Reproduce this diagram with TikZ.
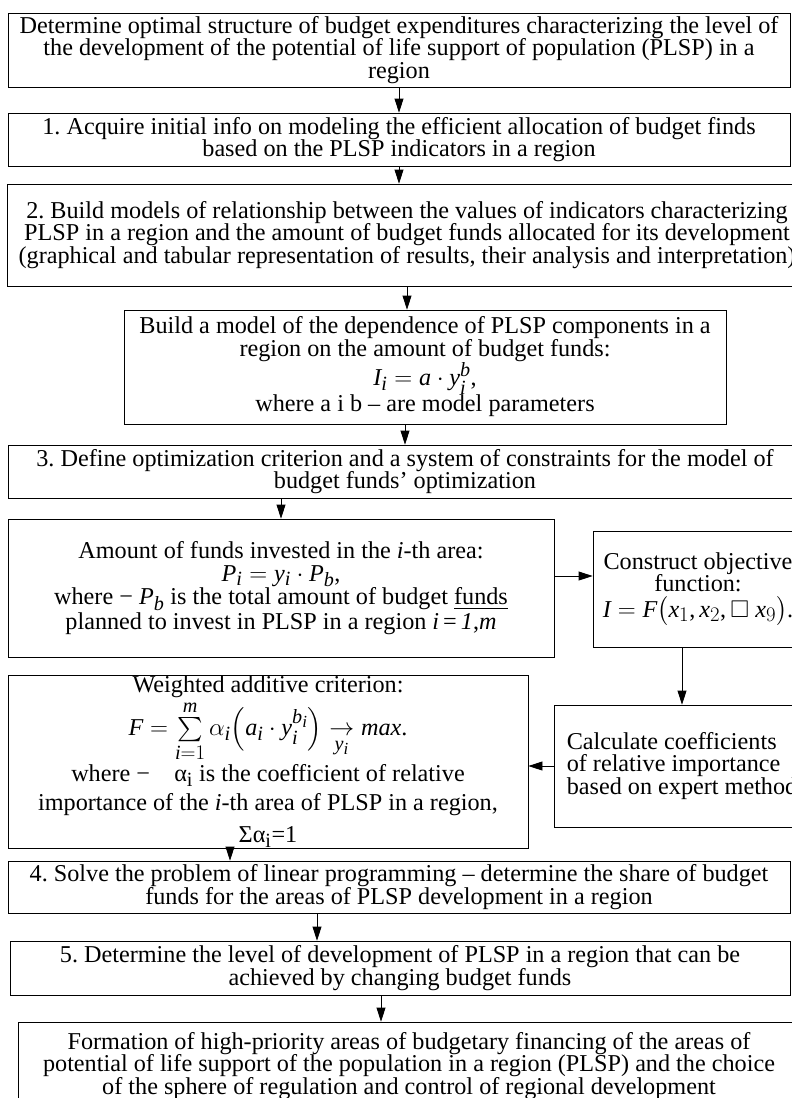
\documentclass[tikz,border=0pt]{standalone}
\usepackage{amsmath,amssymb}
\usepackage{fontspec}
\setmainfont{Liberation Serif}
\usepackage[italic]{mathastext}
\usetikzlibrary{arrows.meta,positioning}
\frenchspacing

\begin{document}
\begin{tikzpicture}[x=1pt, y=-1pt, line width=0.8pt,
    box/.style = {draw, align=center, inner sep=0pt, font=\fontsize{24.2}{22.5}\selectfont},
    arr/.style = {-{Triangle[length=14pt,width=9pt]}}]
    \useasboundingbox (0,0) rectangle (792,1098);
    \clip (0,0) rectangle (792,1098);
    % main chain
    \node[box, minimum width=782pt, minimum height=74pt] (goal) at (399,50) {Determine optimal structure of budget expenditures characterizing the level of\\ the development of the potential of life support of population (PLSP) in a\\ region};
    \node[box, minimum width=782pt, minimum height=53pt] (s1) at (399,139.5) {1. Acquire initial info on modeling the efficient allocation of budget finds\\ based on the PLSP indicators in a region};
    \node[box, minimum width=800pt, minimum height=102pt] (s2) at (407,235) {2. Build models of relationship between the values of indicators characterizing\\ PLSP in a region and the amount of budget funds allocated for its development\\ (graphical and tabular representation of results, their analysis and interpretation)};
    \node[box, minimum width=602pt, minimum height=114pt] (model) at (425,367) {Build a model of the dependence of PLSP components in a\\ region on the amount of budget funds:\\ $I_i = a\cdot y_i^{b}$,\\ where a i b -- are model parameters};
    \node[box, minimum width=794pt, minimum height=53pt] (s3) at (405,471.5) {3. Define optimization criterion and a system of constraints for the model of\\ budget funds' optimization};
    % criterion blocks
    \node[box, minimum width=546pt, minimum height=138pt] (amount) at (281,588) {Amount of funds invested in the \textit{i}-th area:\\ $P_i = y_i\cdot P_b$,\\ where −\ $P_b$ is the total amount of budget \underline{funds}\\[2pt] planned to invest in PLSP in a region \textit{i}\,=\,\textit{1},\textit{m}};
    \node[box, minimum width=210pt, minimum height=116pt] (objective) at (698,589) {Construct objective\\ function:\\[3pt] $I = F\bigl(x_1, x_2, \square\ x_9\bigr)$.};
    \node[box, align=left, minimum width=255pt, minimum height=122pt] (calc) at (682,766) {Calculate coefficients\\ of relative importance\\ based on expert method};
    \node[box, minimum width=520pt, minimum height=173pt] (weights) at (268,761.5) {Weighted additive criterion:\\[2pt]
        $F=\sum\limits_{i=1}^{m}\alpha_i\Bigl(a_i\cdot y_i^{b_i}\Bigr)\underset{y_i}{\rightarrow} max.$\\[2pt]
        where −\quad α\textsubscript{i} is the coefficient of relative\\[6pt]
        importance of the \textit{i}-th area of PLSP in a region,\\[10pt]
        Σα\textsubscript{i}=1};
    % final steps
    \node[box, minimum width=782pt, minimum height=52pt] (s4) at (399,887) {4. Solve the problem of linear programming -- determine the share of budget\\ funds for the areas of PLSP development in a region};
    \node[box, minimum width=780pt, minimum height=54pt] (s5) at (400,968) {5. Determine the level of development of PLSP in a region that can be\\ achieved by changing budget funds};
    \node[box, minimum width=782pt, minimum height=88pt] (result) at (409,1066) {Formation of high-priority areas of budgetary financing of the areas of\\ potential of life support of the population in a region (PLSP) and the choice\\ of the sphere of regulation and control of regional development};
    % arrows
    \draw[arr] (goal.south) -- (goal.south |- s1.north);
    \draw[arr] (s1.south) -- (s1.south |- s2.north);
    \draw[arr] (s2.south) -- (s2.south |- model.north);
    \draw[arr] (model.south -| s3.north) -- (s3.north);
    \draw[arr] (s3.south -| amount.north) -- (amount.north);
    \draw[arr] ([yshift=12pt]amount.east) -- ([yshift=12pt]amount.east -| objective.west);
    \draw[arr] (objective.south -| calc.north) -- (calc.north);
    \draw[arr] (calc.west) -- (calc.west -| weights.east);
    \draw[arr] ([xshift=-38pt]weights.south) -- ([xshift=-38pt]weights.south |- s4.north);
    \draw[arr] ([xshift=-82pt]s4.south) -- ([xshift=-82pt]s4.south |- s5.north);
    \draw[arr] ([xshift=-19pt]s5.south) -- ([xshift=-19pt]s5.south |- result.north);
\end{tikzpicture}
\end{document}
